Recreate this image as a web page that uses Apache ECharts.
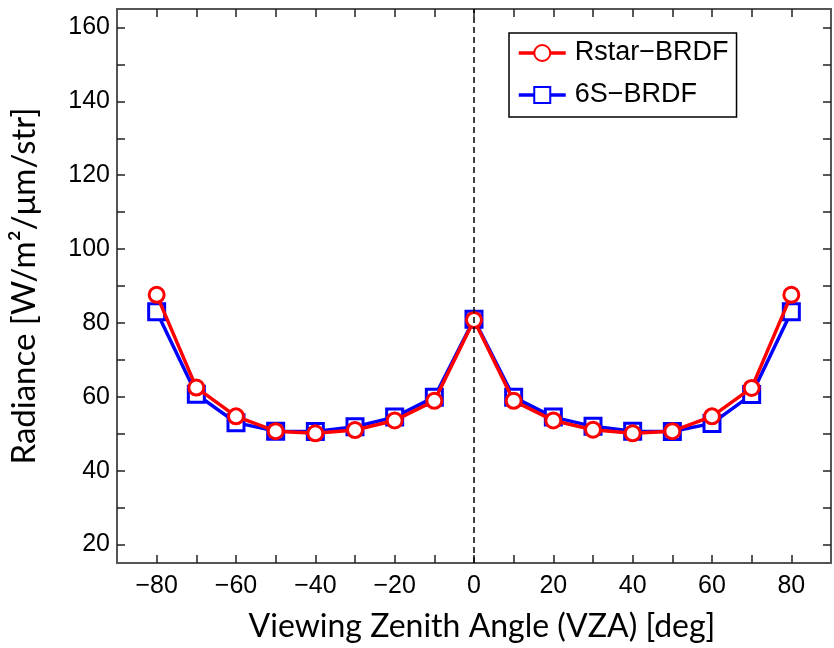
<!DOCTYPE html>
<html>
<head>
<meta charset="utf-8">
<script src="https://cdn.jsdelivr.net/npm/echarts@6/dist/echarts.min.js"></script>
<style>
html,body{margin:0;padding:0;background:#fff;}
#chart{width:834px;height:648px;}
</style>
</head>
<body>
<div id="chart"></div>
<script>
const vza = [-80, -70, -60, -50, -40, -30, -20, -10, 0, 10, 20, 30, 40, 50, 60, 70, 80];
const rstarBRDF = [87.6, 62.5, 54.7, 50.7, 50.1, 51.0, 53.6, 58.9, 80.8, 58.9, 53.6, 51.1, 50.1, 50.7, 54.7, 62.4, 87.6];
const sixsBRDF = [83.0, 60.7, 53.0, 50.7, 50.6, 51.9, 54.5, 59.9, 81.0, 59.9, 54.5, 52.0, 50.7, 50.6, 52.8, 60.6, 83.0];
const xLabelTicks = [-80, -60, -40, -20, 0, 20, 40, 60, 80];
const xMinorTicks = [-80, -70, -60, -50, -40, -30, -20, -10, 0, 10, 20, 30, 40, 50, 60, 70, 80];
const yLabelTicks = [20, 40, 60, 80, 100, 120, 140, 160];
const yMinorTicks = [20, 30, 40, 50, 60, 70, 80, 90, 100, 110, 120, 130, 140, 150, 160];

const tickFont = '"Liberation Sans", Arial, sans-serif';
const titleFont = 'Lato, "Open Sans", sans-serif';
const minus = v => String(v).replace('-', '\u2212');

const axisLineStyle = {color: '#555', width: 2};
const tickStyle = {color: '#222', width: 1.5};

const chart = echarts.init(document.getElementById('chart'));
chart.setOption({
  animation: false,
  backgroundColor: '#fff',
  grid: {left: 115, right: 3, top: 9, bottom: 80, containLabel: false},
  legend: {
    data: ['Rstar-BRDF', '6S-BRDF'],
    orient: 'vertical',
    left: 509, top: 33,
    padding: [5, 8, 7, 8],
    borderColor: '#000', borderWidth: 1.5,
    itemWidth: 47, itemHeight: 20, itemGap: 12,
    lineStyle: {width: 3.5},
    formatter: n => n.replace('-', '\u2212'),
    textStyle: {fontFamily: tickFont, fontSize: 27, color: '#000', lineHeight: 30, padding: [0, 0, 0, 4]}
  },
  xAxis: [{
    type: 'value', min: -90, max: 90,
    name: 'Viewing Zenith Angle (VZA) [deg]',
    nameLocation: 'middle', nameGap: 48,
    nameTextStyle: {fontFamily: titleFont, fontSize: 32, color: '#000', padding: [0, 0, 0, 16]},
    axisLine: {show: true, onZero: false, lineStyle: axisLineStyle},
    axisTick: {show: true, inside: true, length: 8, lineStyle: tickStyle, customValues: xMinorTicks},
    axisLabel: {show: true, customValues: xLabelTicks, margin: 11, formatter: minus,
      fontFamily: tickFont, fontSize: 25, color: '#000'},
    splitLine: {show: false}
  }, {
    type: 'value', min: -90, max: 90, position: 'top',
    axisLine: {show: true, onZero: false, lineStyle: axisLineStyle},
    axisTick: {show: true, inside: true, length: 8, lineStyle: tickStyle, customValues: xMinorTicks},
    axisLabel: {show: false},
    splitLine: {show: false}
  }],
  yAxis: [{
    type: 'value', min: 15, max: 165,
    name: 'Radiance [W/m\u00B2/\u03BCm/str]',
    nameLocation: 'middle', nameGap: 76,
    nameTextStyle: {fontFamily: titleFont, fontSize: 33, color: '#000'},
    axisLine: {show: true, onZero: false, lineStyle: axisLineStyle},
    axisTick: {show: true, inside: true, length: 8, lineStyle: tickStyle, customValues: yMinorTicks},
    axisLabel: {show: true, customValues: yLabelTicks, margin: 7,
      fontFamily: tickFont, fontSize: 25, color: '#000'},
    splitLine: {show: false}
  }, {
    type: 'value', min: 15, max: 165, position: 'right',
    axisLine: {show: true, onZero: false, lineStyle: axisLineStyle},
    axisTick: {show: true, inside: true, length: 8, lineStyle: tickStyle, customValues: yMinorTicks},
    axisLabel: {show: false},
    splitLine: {show: false}
  }],
  series: [{
    name: 'Rstar-BRDF', type: 'line', z: 4,
    data: vza.map((x, i) => [x, rstarBRDF[i]]),
    symbol: 'circle', symbolSize: 15,
    lineStyle: {color: '#ff0000', width: 3.5},
    itemStyle: {color: '#fff', borderColor: '#ff0000', borderWidth: 3},
    markLine: {
      silent: true, symbol: 'none', label: {show: false},
      lineStyle: {color: '#000', width: 1.5, type: [6, 4]},
      data: [{xAxis: 0}]
    }
  }, {
    name: '6S-BRDF', type: 'line', z: 3,
    data: vza.map((x, i) => [x, sixsBRDF[i]]),
    symbol: 'rect', symbolSize: 16,
    lineStyle: {color: '#0000ff', width: 3.5},
    itemStyle: {color: '#fff', borderColor: '#0000ff', borderWidth: 3}
  }]
});
</script>
</body>
</html>
